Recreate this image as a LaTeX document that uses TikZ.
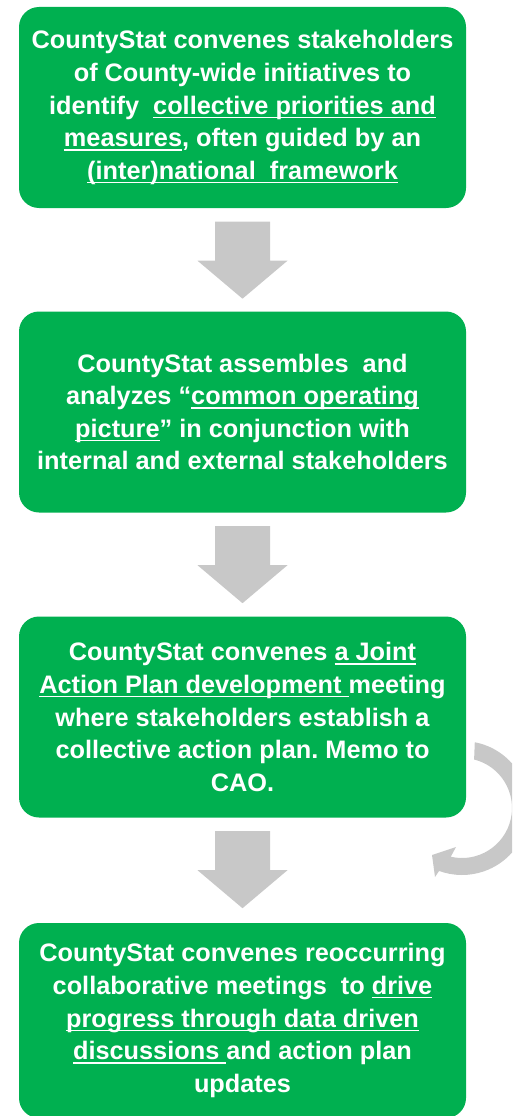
\documentclass[tikz,border=0pt]{standalone}
\usepackage{fontspec}
\setmainfont{Liberation Sans}
\usetikzlibrary{calc}
\definecolor{boxgreen}{RGB}{0,176,80}
\definecolor{arrgray}{RGB}{200,200,200}
\newsavebox\myulbox
\newcommand\myul[1]{\sbox\myulbox{#1}\rlap{\rule[-4pt]{\wd\myulbox}{1.5pt}}\usebox\myulbox}
\frenchspacing
\begin{document}
\begin{tikzpicture}[x=1pt,y=1pt,
  box/.style={rectangle, rounded corners=20pt, fill=boxgreen, text=white,
    minimum width=447pt, minimum height=201pt, align=center, inner sep=0pt,
    font=\fontsize{25.3}{32.6}\selectfont\bfseries},
  arr/.style={fill=arrgray}]
\useasboundingbox (0,0) rectangle (512,-1116);
\clip (0,0) rectangle (512,-1116);

\node[box] (b1) at (242.5,-107.5) {CountyStat convenes stakeholders\\
of County-wide initiatives to\\
identify~ \myul{collective priorities and}\\
\myul{measures}, often guided by an\\
\myul{(inter)national~ framework}};

\node[box] (b2) at (242.5,-412) {CountyStat assembles~ and\\
analyzes “\myul{common operating}\\
\myul{picture}” in conjunction with\\
internal and external stakeholders};

\node[box] (b3) at (242.5,-717) {CountyStat convenes \myul{a Joint}\\
\myul{Action Plan development\ }meeting\\
where stakeholders establish a\\
collective action plan. Memo to\\
CAO.};

\node[box, minimum height=195pt] (b4) at (242.5,-1020.5) {CountyStat convenes reoccurring\\
collaborative meetings~ to \myul{drive}\\
\myul{progress through data driven}\\
\myul{discussions\ }and action plan\\
updates};

% straight block arrows
\foreach \b in {b1,b2,b3}{
  \fill[arr, shift={(\b.south)}] (-27.5,-13.5) -- (27.5,-13.5) -- (27.5,-52.5)
    -- (45,-52.5) -- (0,-90.5) -- (-45,-52.5) -- (-27.5,-52.5) -- cycle;
}

% circular arrow
\coordinate (c) at (462,-808);
\fill[arr] ($(c)+(79:67)$) arc[start angle=79, end angle=-110, radius=67]
  -- (435,-877) -- (432,-855) -- (456,-847)
  -- ($(c)+(-103:50)$) arc[start angle=-103, end angle=76, radius=50] -- cycle;
\end{tikzpicture}
\end{document}
